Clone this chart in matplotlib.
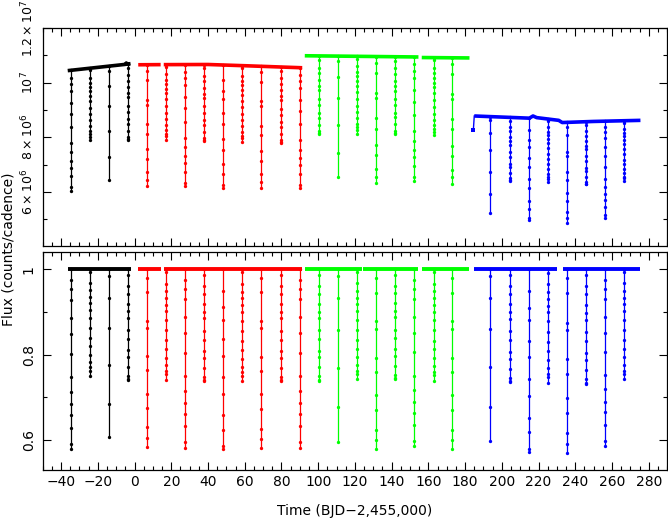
import numpy as np
import matplotlib
matplotlib.use('Agg')
import matplotlib.pyplot as plt
from matplotlib.ticker import MultipleLocator, FixedLocator

plt.rcParams['font.family'] = ['DejaVu Sans']
plt.rcParams['mathtext.default'] = 'regular'
plt.rcParams['font.size'] = 10

# one colour per Kepler quarter
colors = ['black', '#ff0000', '#00ff00', '#0000ff']

# raw out-of-eclipse trend (days, counts/cadence); nan = data gap
trend_t = [
    [-36.4, -5.0, -4.5, -4.0, -2.2],
    [2.0, 14.2, np.nan, 15.9, 40.0, 60.0, 91.3],
    [92.7, 154.6, np.nan, 156.4, 182.4],
    [185.0, 200.0, 215.0, 217.0, 219.0, 231.0, 232.9, 250.0, 275.5],
]
trend_f = [
    [1.044e7, 1.067e7, 1.072e7, 1.068e7, 1.0695e7],
    [1.0655e7, 1.066e7, np.nan, 1.066e7, 1.0665e7, 1.062e7, 1.0545e7],
    [1.0985e7, 1.094e7, np.nan, 1.092e7, 1.0905e7],
    [8.78e6, 8.74e6, 8.70e6, 8.78e6, 8.72e6, 8.62e6, 8.54e6, 8.58e6, 8.62e6],
]
# first cadence of Q4 (thermal settling), raw panel only
q4_first_t, q4_first_f = 184.5, 8.26e6

# normalised light-curve segments (days)
norm_segments = [
    [(-36.4, -2.2)],
    [(2.0, 14.6), (15.9, 91.3)],
    [(92.7, 123.7), (124.2, 154.6), (156.4, 182.4)],
    [(185.0, 230.0), (233.3, 275.5)],
]

# eclipse mid-times, minimum normalised flux, dot template
ecl_t = [
    [-34.7, -24.4, -14.0, -3.5],
    [6.7, 17.1, 27.3, 37.8, 48.2, 58.5, 69.1, 79.5, 90.0],
    [100.4, 110.7, 121.3, 131.6, 142.0, 152.4, 162.9, 173.1],
    [193.8, 204.4, 214.6, 225.2, 235.6, 245.9, 256.3, 266.8],
]
ecl_min = [
    [0.578, 0.750, 0.607, 0.740],
    [0.584, 0.741, 0.582, 0.738, 0.578, 0.738, 0.581, 0.738, 0.582],
    [0.739, 0.596, 0.742, 0.578, 0.743, 0.585, 0.739, 0.578],
    [0.597, 0.735, 0.571, 0.734, 0.569, 0.732, 0.586, 0.742],
]
ecl_tpl = [
    ['d1', 's1', 'd3', 's2'],
    ['d2', 's1', 'd1', 's2', 'd4', 's1', 'd2', 's2', 'd1'],
    ['s2', 'd3', 's1', 'd2', 's2', 'd1', 's1', 'd2'],
    ['d3', 's2', 'd4', 's1', 'd2', 's2', 'd1', 's1'],
]

templates = {
    'd1': [0.0, 0.06, 0.11, 0.17, 0.27, 0.36, 0.47, 0.60, 0.68, 0.75, 0.81, 0.88, 0.97, 1.0],
    'd2': [0.0, 0.05, 0.13, 0.29, 0.33, 0.49, 0.57, 0.70, 0.78, 0.89, 0.95, 1.0],
    'd3': [0.0, 0.04, 0.17, 0.35, 0.57, 0.80, 1.0],
    'd4': [0.0, 0.12, 0.21, 0.28, 0.39, 0.48, 0.60, 0.69, 0.81, 0.89, 0.98, 1.0],
    's1': [0.0, 0.03, 0.13, 0.20, 0.26, 0.32, 0.38, 0.46, 0.55, 0.64, 0.72, 0.80, 0.87, 0.92, 0.95, 1.0],
    's2': [0.0, 0.05, 0.15, 0.22, 0.31, 0.38, 0.44, 0.55, 0.63, 0.73, 0.79, 0.88, 0.96, 0.99, 1.0],
}

fig = plt.figure(figsize=(6.68, 5.19), dpi=100)
ax1 = fig.add_axes([0.064, 0.526, 0.9346, 0.420])
ax2 = fig.add_axes([0.064, 0.0944, 0.9346, 0.420])

for q, c in enumerate(colors):
    tt = np.array(trend_t[q])
    ff = np.array(trend_f[q])
    ax1.plot(tt, ff, color=c, lw=2.6, solid_capstyle='butt')
    for t0, t1 in norm_segments[q]:
        ax2.plot([t0, t1], [1.0, 1.0], color=c, lw=2.8, solid_capstyle='butt')
    good = ~np.isnan(tt)
    for te, fm, key in zip(ecl_t[q], ecl_min[q], ecl_tpl[q]):
        frac = np.array(templates[key])
        fn = 1.0 - (1.0 - fm) * frac
        base = np.interp(te, tt[good], ff[good])
        ax2.plot([te] * len(fn), fn, color=c, lw=0.9, marker='o', ms=2.4, mew=0)
        ax1.plot([te] * len(fn), base * fn, color=c, lw=0.9, marker='o', ms=2.4, mew=0)

ax1.plot([q4_first_t, trend_t[3][0]], [q4_first_f, trend_f[3][0]],
         color=colors[3], lw=1.0, marker='s', ms=2.8, mew=0, markevery=[0])

for ax in (ax1, ax2):
    ax.set_xlim(-50, 290)
    ax.xaxis.set_major_locator(MultipleLocator(20))
    ax.xaxis.set_minor_locator(MultipleLocator(5))
    ax.tick_params(which='both', direction='in', top=True, right=True, width=0.8)
    ax.tick_params(which='major', length=6)
    ax.tick_params(which='minor', length=3)
    for s in ax.spines.values():
        s.set_linewidth(0.9)

ax1.set_ylim(4.02e6, 1.2e7)
ax1.yaxis.set_major_locator(FixedLocator([6e6, 8e6, 1e7, 1.2e7]))
ax1.yaxis.set_minor_locator(MultipleLocator(1e6))
ax1.set_yticklabels([r'$6\times10^{6}$', r'$8\times10^{6}$', r'$10^{7}$', r'$1.2\times10^{7}$'],
                    fontsize=9)
ax1.tick_params(axis='x', labelbottom=False)

ax2.set_ylim(0.53, 1.04)
ax2.yaxis.set_major_locator(FixedLocator([0.6, 0.8, 1.0]))
ax2.yaxis.set_minor_locator(MultipleLocator(0.1))
ax2.set_yticklabels(['0.6', '0.8', '1'])

for ax in (ax1, ax2):
    for lab in ax.get_yticklabels():
        lab.set_rotation(90)
        lab.set_va('center')
    ax.tick_params(axis='y', pad=5)

ax2.set_xlabel('Time (BJD\u22122,455,000)', labelpad=11)
fig.text(0.012, 1 - 249 / 519, 'Flux (counts/cadence)', rotation=90,
         ha='center', va='center')

fig.savefig('out.png', dpi=100)
